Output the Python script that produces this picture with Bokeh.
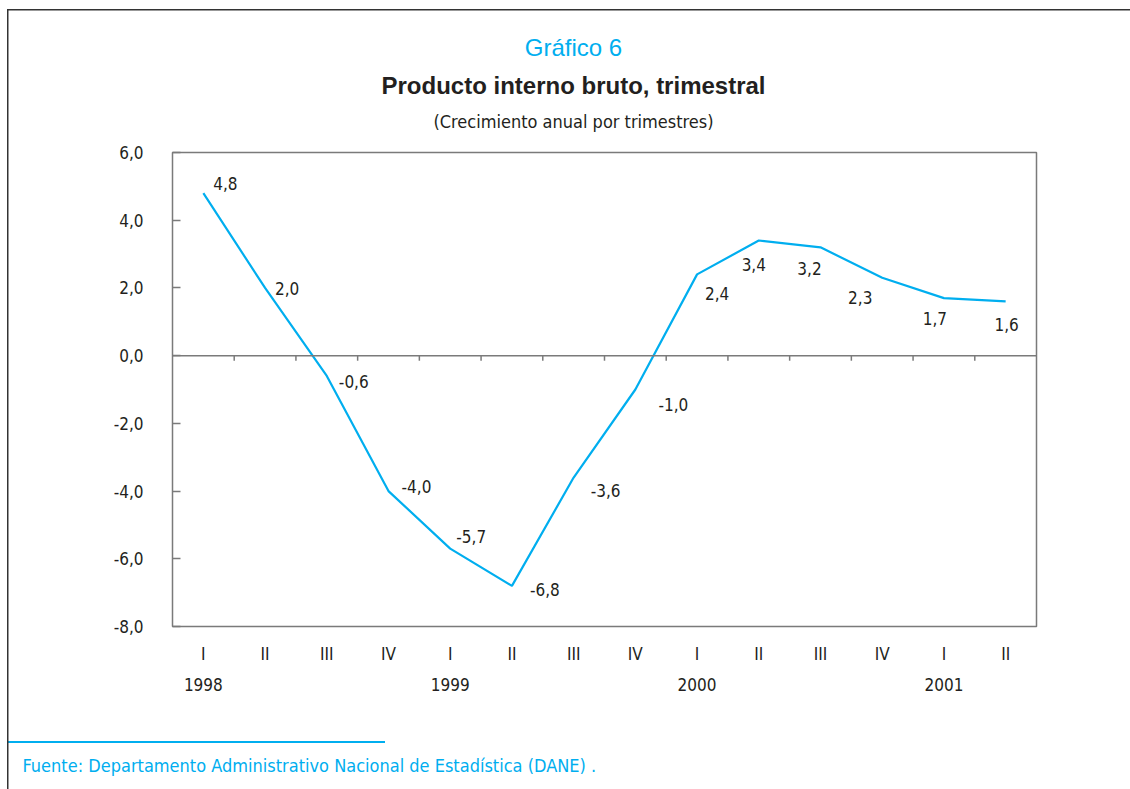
from bokeh.plotting import figure
from bokeh.layouts import column
from bokeh.models import (ColumnDataSource, FixedTicker, LinearAxis,
                          Span, Range1d)
from bokeh.core.properties import value
from bokeh.embed import file_html
from bokeh.resources import INLINE

# ---- data ----
quarters = ["I", "II", "III", "IV", "I", "II", "III", "IV",
            "I", "II", "III", "IV", "I", "II"]
years = ["1998", "1999", "2000", "2001"]
growth = [4.8, 2.0, -0.6, -4.0, -5.7, -6.8, -3.6, -1.0,
          2.4, 3.4, 3.2, 2.3, 1.7, 1.6]
y_ticks = [-8, -6, -4, -2, 0, 2, 4, 6]
chart_number = "Gráfico 6"
chart_title = "Producto interno bruto, trimestral"
chart_subtitle = "(Crecimiento anual por trimestres)"
source_note = "Fuente: Departamento Administrativo Nacional de Estadística (DANE) ."

# label placement (pixels, style only)
label_dx = [22, 22, 27, 28, 21, 33, 32, 38, 20, -5, -11, -22, -9, 1]
label_dy = [-10, 1, 6, -5, -12, 4, 13, 15, 19, 24, 21, 20, 20, 23]

CYAN = "#00aeef"
DARK = "#231f20"
GRAY = "#7a7a7a"
FRAME = "#333333"
NARROW = "'Liberation Sans Narrow', 'DejaVu Sans Condensed', Roboto"
REG = "'Liberation Sans', Arial"
W = 1130
HEAD_H = 138
FOOT_H = 59
MAIN_H = 789 - HEAD_H - FOOT_H


def strip(height):
    """A plain figure whose frame covers its whole canvas, in pixel units."""
    s = figure(width=W, height=height, output_backend="svg", toolbar_location=None,
               x_range=Range1d(0, W), y_range=Range1d(height, 0),
               x_axis_location=None, y_axis_location=None, min_border=0)
    s.title.visible = False
    s.xgrid.visible = False
    s.ygrid.visible = False
    s.outline_line_color = None
    s.background_fill_color = None
    s.border_fill_color = None
    s.frame_align = False
    return s


# ---- header ----
h = strip(HEAD_H)
h.styles = {
    "background-color": "white",
    "background-image": (f"linear-gradient({FRAME},{FRAME}), "
                         f"linear-gradient({FRAME},{FRAME})"),
    "background-position": "8px 9px, 7px 9px",
    "background-size": f"1122px 1.5px, 1.5px {HEAD_H}px",
    "background-repeat": "no-repeat",
}
h.text(x=[573], y=[47], text=[chart_number], text_align="center",
       text_baseline="middle", text_font=value(REG), text_font_size="24px",
       text_color=CYAN)
h.text(x=[573], y=[85], text=[chart_title], text_align="center",
       text_baseline="middle", text_font=value(REG), text_font_size="24px",
       text_font_style="bold", text_color=DARK)
h.text(x=[573], y=[121], text=[chart_subtitle], text_align="center",
       text_baseline="middle", text_font=value(NARROW), text_font_size="18px",
       text_color=DARK)

# ---- main chart ----
idx = list(range(len(growth)))
fmt = lambda v: f"{v:.1f}".replace(".", ",")
src = ColumnDataSource(dict(
    x=idx, y=growth, txt=[fmt(v) for v in growth],
    dx=label_dx, dy=label_dy))

p = figure(width=W, height=MAIN_H, output_backend="svg", toolbar_location=None,
           x_range=Range1d(-0.5, len(growth) - 0.5), y_range=Range1d(-8, 6),
           x_axis_location=None, min_border_left=172, min_border_right=94,
           min_border_top=152 - HEAD_H, min_border_bottom=104)
p.frame_align = False
p.title.visible = False
p.xgrid.visible = False
p.ygrid.visible = False
p.outline_line_color = GRAY
p.outline_line_width = 1.5
p.background_fill_color = "white"
p.border_fill_color = None
p.styles = {
    "background-color": "white",
    "background-image": f"linear-gradient({FRAME},{FRAME})",
    "background-position": "7px 0px",
    "background-size": f"1.5px {MAIN_H}px",
    "background-repeat": "no-repeat",
}

ya = p.yaxis[0]
ya.ticker = FixedTicker(ticks=y_ticks)
ya.major_label_overrides = {t: fmt(t) for t in y_ticks}
ya.axis_line_color = None
ya.major_tick_in = 8
ya.major_tick_out = 0
ya.major_tick_line_color = GRAY
ya.major_tick_line_width = 1.5
ya.minor_tick_line_color = None
ya.major_label_standoff = 29
ya.major_label_text_font = NARROW
ya.major_label_text_font_size = "17px"
ya.major_label_text_color = DARK

qa = LinearAxis(ticker=FixedTicker(ticks=idx),
                major_label_overrides={i: q for i, q in enumerate(quarters)})
qa.axis_line_color = None
qa.major_tick_line_color = None
qa.minor_tick_line_color = None
qa.major_label_standoff = 11
qa.major_label_text_font = NARROW
qa.major_label_text_font_size = "17px"
qa.major_label_text_color = DARK
p.add_layout(qa, "below")

year_pos = [i for i, q in enumerate(quarters) if q == "I"]
ya2 = LinearAxis(ticker=FixedTicker(ticks=year_pos),
                 major_label_overrides={pos: y for pos, y in zip(year_pos, years)})
ya2.axis_line_color = None
ya2.major_tick_line_color = None
ya2.minor_tick_line_color = None
ya2.major_label_standoff = 5
ya2.major_label_text_font = NARROW
ya2.major_label_text_font_size = "17px"
ya2.major_label_text_color = DARK
p.add_layout(ya2, "below")

p.add_layout(Span(location=0, dimension="width", line_color=GRAY, line_width=1.5))
bounds = [i + 0.5 for i in idx[:-1]]
p.segment(x0=bounds, x1=bounds, y0=[0] * len(bounds), y1=[-0.15] * len(bounds),
          line_color=GRAY, line_width=1.5)

p.line("x", "y", source=src, line_color=CYAN, line_width=2.2)
p.text("x", "y", text="txt", source=src, x_offset="dx", y_offset="dy",
       text_align="center", text_baseline="middle",
       text_font=value(NARROW), text_font_size="17px", text_color=DARK)

# ---- footer ----
f = strip(FOOT_H)
f.styles = {
    "background-color": "white",
    "background-image": (f"linear-gradient({FRAME},{FRAME}), "
                         f"linear-gradient({CYAN},{CYAN})"),
    "background-position": "7px 0px, 8px 11px",
    "background-size": f"1.5px {FOOT_H}px, 377px 2px",
    "background-repeat": "no-repeat",
}
f.text(x=[22], y=[35], text=[source_note], text_align="left",
       text_baseline="middle", text_font=value(NARROW),
       text_font_size="18px", text_color=CYAN)

layout = column(h, p, f, spacing=0)
open("out.html", "w").write(file_html(layout, INLINE))
